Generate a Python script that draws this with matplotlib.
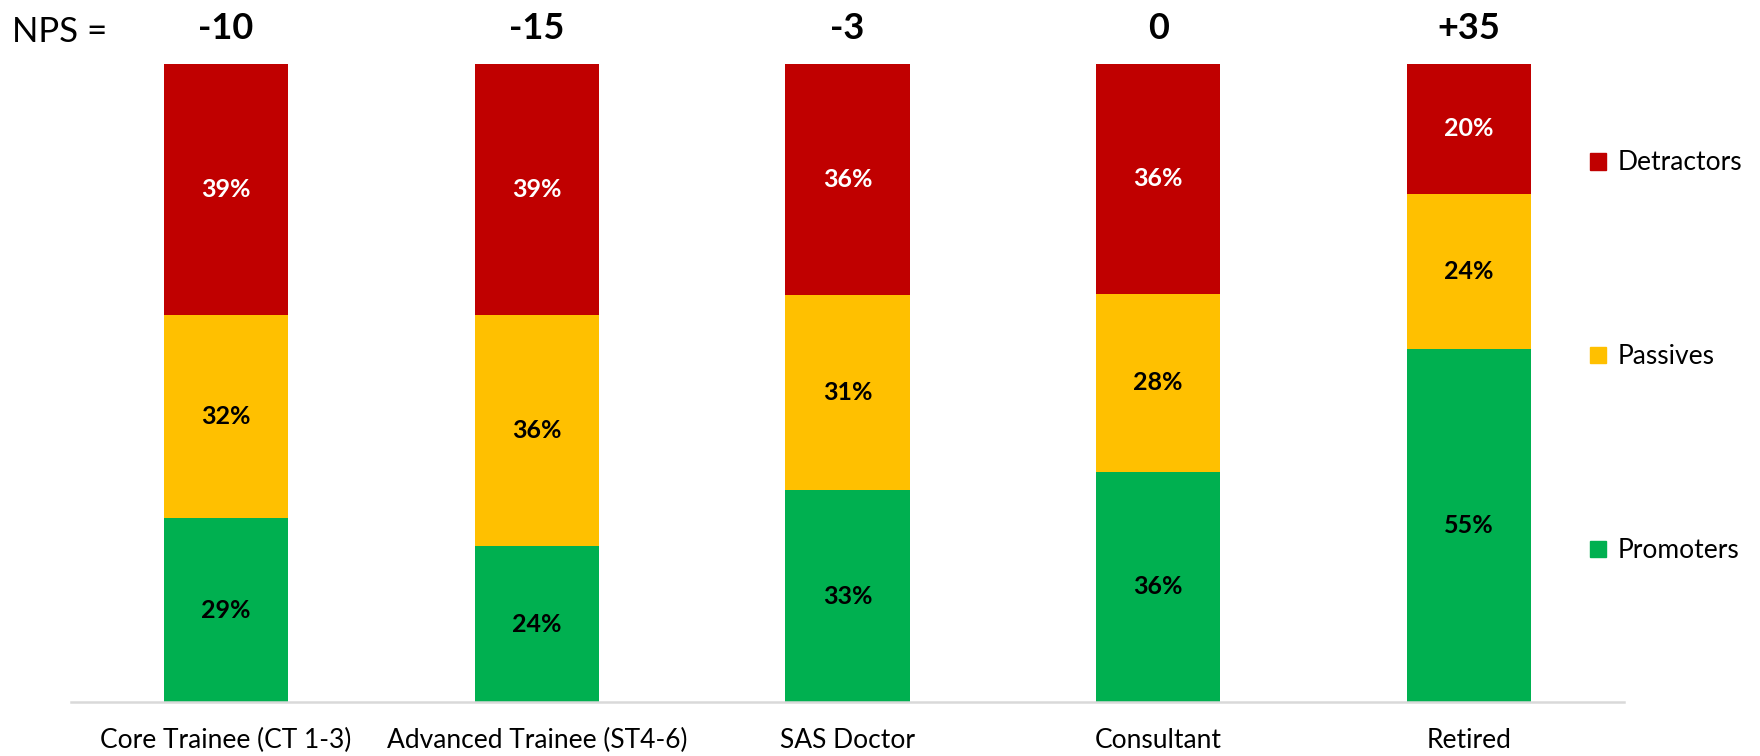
import numpy as np
import matplotlib.pyplot as plt
from matplotlib.patches import Patch

plt.rcParams['font.family'] = ['Lato', 'DejaVu Sans']

categories = ['Core Trainee (CT 1-3)', 'Advanced Trainee (ST4-6)', 'SAS Doctor', 'Consultant', 'Retired']
promoters = [28.8, 24.4, 33.2, 36.1, 55.4]
passives = [31.8, 36.2, 30.6, 27.9, 24.3]
detractors = [39.4, 39.4, 36.2, 36.0, 20.3]
nps_labels = ['-10', '-15', '-3', '0', '+35']

colors = {'Promoters': '#00B050', 'Passives': '#FFC000', 'Detractors': '#C00000'}

fig = plt.figure(figsize=(17.6, 7.56), dpi=100)
ax = fig.add_axes([0.0402, 0.0714, 0.8826, 0.8439])

x = np.arange(len(categories))
w = 0.4
b1 = ax.bar(x, promoters, w, color=colors['Promoters'])
b2 = ax.bar(x, passives, w, bottom=promoters, color=colors['Passives'])
bottom3 = np.array(promoters) + np.array(passives)
b3 = ax.bar(x, detractors, w, bottom=bottom3, color=colors['Detractors'])

# percent labels in the middle of each segment
for bars, vals, tc in [(b1, promoters, 'black'), (b2, passives, 'black'), (b3, detractors, 'white')]:
    ax.bar_label(bars, labels=['%d%%' % round(v) for v in vals], label_type='center',
                 color=tc, fontsize=18, fontweight='bold')

for i, s in enumerate(nps_labels):
    ax.text(x[i], 105.6, s, ha='center', va='center', fontsize=26, fontweight='bold', clip_on=False)
fig.text(0.007, 0.958, 'NPS =', ha='left', va='center', fontsize=25)

ax.set_xlim(-0.5, 4.5)
ax.set_ylim(0, 100)
ax.set_xticks(x)
ax.set_xticklabels(categories, fontsize=19)
ax.tick_params(axis='x', length=0, pad=19)
ax.set_yticks([])
for sp in ['top', 'right', 'left']:
    ax.spines[sp].set_visible(False)
ax.spines['bottom'].set_color('#d9d9d9')
ax.spines['bottom'].set_linewidth(1.8)

handles = [Patch(color=colors[k]) for k in ['Detractors', 'Passives', 'Promoters']]
fig.legend(handles, ['Detractors', 'Passives', 'Promoters'], loc='center left',
           bbox_to_anchor=(0.9035, 0.528), frameon=False, fontsize=19,
           borderaxespad=0, borderpad=0,
           handlelength=0.6, handleheight=0.6, handletextpad=0.45, labelspacing=6.4)

fig.savefig('out.png', dpi=100)
